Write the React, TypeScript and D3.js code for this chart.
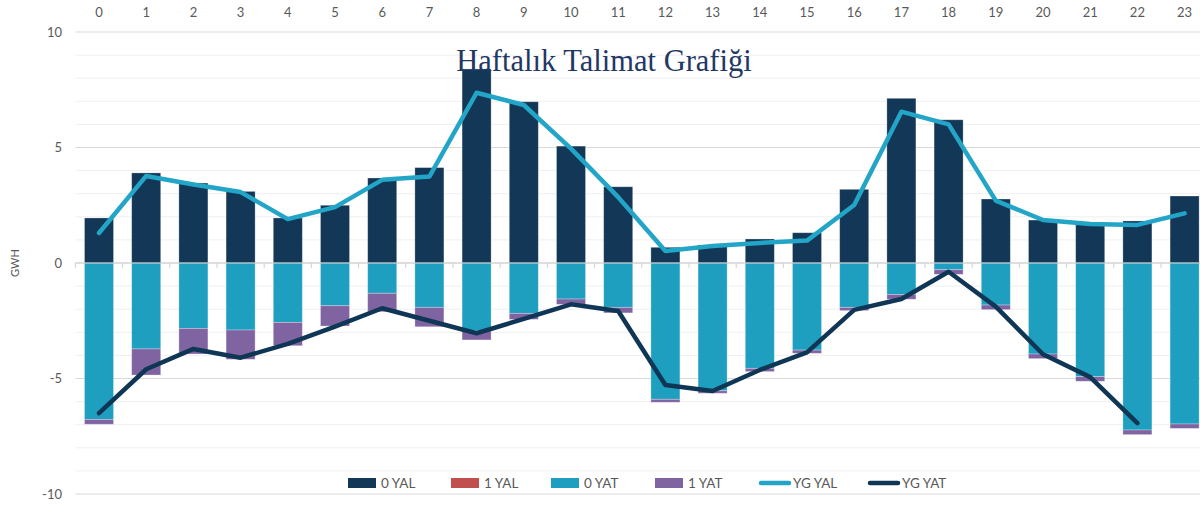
import * as d3 from 'd3';

const hours = ['0','1','2','3','4','5','6','7','8','9','10','11','12','13','14','15','16','17','18','19','20','21','22','23'];
const yal0 = [1.95, 3.9, 3.46, 3.1, 1.95, 2.5, 3.68, 4.13, 8.4, 6.98, 5.06, 3.3, 0.68, 0.78, 1.04, 1.31, 3.19, 7.13, 6.2, 2.77, 1.86, 1.72, 1.82, 2.9];
const yal1 = [0, 0, 0, 0, 0, 0, 0, 0, 0, 0, 0, 0, 0, 0, 0, 0, 0, 0, 0, 0, 0, 0, 0, 0];
const yat0 = [-6.77, -3.72, -2.83, -2.9, -2.57, -1.85, -1.31, -1.92, -2.94, -2.18, -1.56, -1.92, -5.9, -5.53, -4.56, -3.77, -1.92, -1.36, -0.29, -1.82, -3.94, -4.92, -7.23, -6.97];
const yat1 = [-0.21, -1.13, -1.11, -1.27, -1.01, -0.88, -0.8, -0.84, -0.39, -0.26, -0.23, -0.24, -0.13, -0.11, -0.14, -0.14, -0.14, -0.21, -0.2, -0.2, -0.2, -0.2, -0.2, -0.19];
const ygYal = [1.3, 3.77, 3.4, 3.07, 1.9, 2.42, 3.6, 3.74, 7.37, 6.84, 4.95, 2.85, 0.52, 0.74, 0.87, 0.97, 2.51, 6.55, 6.0, 2.7, 1.86, 1.69, 1.65, 2.15];
const ygYat: (number | null)[] = [-6.5, -4.6, -3.72, -4.1, -3.5, -2.75, -1.96, -2.5, -3.04, -2.42, -1.79, -2.08, -5.28, -5.54, -4.63, -3.87, -2.03, -1.56, -0.38, -1.89, -3.95, -4.94, -6.93, null];
const yTicks = [-10, -5, 0, 5, 10];
const minorTicks = d3.range(-10, 11);

const C_YAL0 = '#123757';
const C_YAL1 = '#c0504d';
const C_YAT0 = '#1f9fc0';
const C_YAT1 = '#8064a2';
const C_LYAL = '#22a5c7';
const C_LYAT = '#0f3655';

const barSeries = [
  { name: '0 YAL', values: yal0, color: C_YAL0 },
  { name: '1 YAL', values: yal1, color: C_YAL1 },
  { name: '0 YAT', values: yat0, color: C_YAT0 },
  { name: '1 YAT', values: yat1, color: C_YAT1 },
];
const lineSeries = [
  { name: 'YG YAL', values: ygYal as (number | null)[], color: C_LYAL },
  { name: 'YG YAT', values: ygYat, color: C_LYAT },
];

export default function App() {
  const width = 1200;
  const height = 506;
  const left = 75.4;
  const step = 47.2;
  const font = 'Lato, "Open Sans", sans-serif';

  const x = d3.scaleBand<string>()
    .domain(hours)
    .range([left, left + step * hours.length])
    .paddingInner(0.385)
    .paddingOuter(0.1925);
  const xc = d3.scalePoint<string>()
    .domain(hours)
    .range([left + step / 2, left + step * (hours.length - 0.5)]);
  const y = d3.scaleLinear().domain([-10, 10]).range([494, 32]);

  // stack positives and negatives separately
  const rects: { key: string; x: number; y0: number; y1: number; color: string }[] = [];
  hours.forEach((h, i) => {
    let pos = 0;
    let neg = 0;
    barSeries.forEach(s => {
      const v = s.values[i];
      if (v === 0) return;
      if (v > 0) {
        rects.push({ key: s.name + h, x: x(h)!, y0: pos, y1: pos + v, color: s.color });
        pos += v;
      } else {
        rects.push({ key: s.name + h, x: x(h)!, y0: neg, y1: neg + v, color: s.color });
        neg += v;
      }
    });
  });

  const line = d3.line<number | null>()
    .defined(d => d !== null)
    .x((_, i) => xc(hours[i])!)
    .y(d => y(d as number));

  const x1 = left;
  const x2 = left + step * hours.length;

  const legendItems = [
    { name: '0 YAL', color: C_YAL0, kind: 'rect', x: 348 },
    { name: '1 YAL', color: C_YAL1, kind: 'rect', x: 451 },
    { name: '0 YAT', color: C_YAT0, kind: 'rect', x: 551 },
    { name: '1 YAT', color: C_YAT1, kind: 'rect', x: 655 },
    { name: 'YG YAL', color: C_LYAL, kind: 'line', x: 759 },
    { name: 'YG YAT', color: C_LYAT, kind: 'line', x: 868 },
  ];
  const legendY = 483;

  return (
    <svg width={width} height={height} style={{ position: 'absolute', left: 0, top: 0, background: '#fff' }}>
      {/* gridlines */}
      {minorTicks.map(t => (
        <line key={'g' + t} x1={x1} x2={x2} y1={y(t)} y2={y(t)}
          stroke={t % 5 === 0 ? '#d9d9d9' : '#efefef'} strokeWidth={1} />
      ))}
      {/* bars */}
      {rects.map(r => (
        <rect key={r.key} x={r.x} width={x.bandwidth()}
          y={y(Math.max(r.y0, r.y1))} height={Math.abs(y(r.y0) - y(r.y1))}
          fill={r.color} stroke="#ffffff" strokeOpacity={0.35} strokeWidth={0.8} />
      ))}
      {/* zero axis */}
      <line x1={x1} x2={x2} y1={y(0)} y2={y(0)} stroke="#d0d0d0" strokeWidth={1} />
      {d3.range(hours.length + 1).map(i => (
        <line key={'t' + i} x1={left + step * i} x2={left + step * i} y1={y(0)} y2={y(0) + 5}
          stroke="#d0d0d0" strokeWidth={1} />
      ))}
      {/* lines */}
      {lineSeries.map(s => (
        <path key={s.name} d={line(s.values) ?? ''} fill="none" stroke={s.color}
          strokeWidth={4.5} strokeLinejoin="round" strokeLinecap="round" />
      ))}
      {/* category labels on top */}
      {hours.map(h => (
        <text key={'c' + h} x={xc(h)} y={17} textAnchor="middle" fontFamily={font}
          fontSize={13} fill="#595959">{h}</text>
      ))}
      {/* y tick labels */}
      {yTicks.map(t => (
        <text key={'y' + t} x={62} y={y(t) + 4.5} textAnchor="end" fontFamily={font}
          fontSize={13} fill="#595959">{t}</text>
      ))}
      <text transform={`translate(19,${y(0)}) rotate(-90)`} textAnchor="middle"
        fontFamily={font} fontSize={11} fill="#595959">GWH</text>
      {/* title */}
      <text x={604} y={71} textAnchor="middle" fontFamily='"Liberation Serif", "DejaVu Serif", serif'
        fontSize={30.5} fill="#1f3864">Haftalık Talimat Grafiği</text>
      {/* legend */}
      {legendItems.map(it => (
        <g key={'l' + it.name}>
          {it.kind === 'rect'
            ? <rect x={it.x} y={legendY - 5} width={28} height={10} fill={it.color} />
            : <line x1={it.x + 2} x2={it.x + 30} y1={legendY} y2={legendY} stroke={it.color}
                strokeWidth={4.5} strokeLinecap="round" />}
          <text x={it.x + (it.kind === 'rect' ? 33 : 34)} y={legendY + 5} fontFamily={font}
            fontSize={13.5} fill="#595959">{it.name}</text>
        </g>
      ))}
    </svg>
  );
}
